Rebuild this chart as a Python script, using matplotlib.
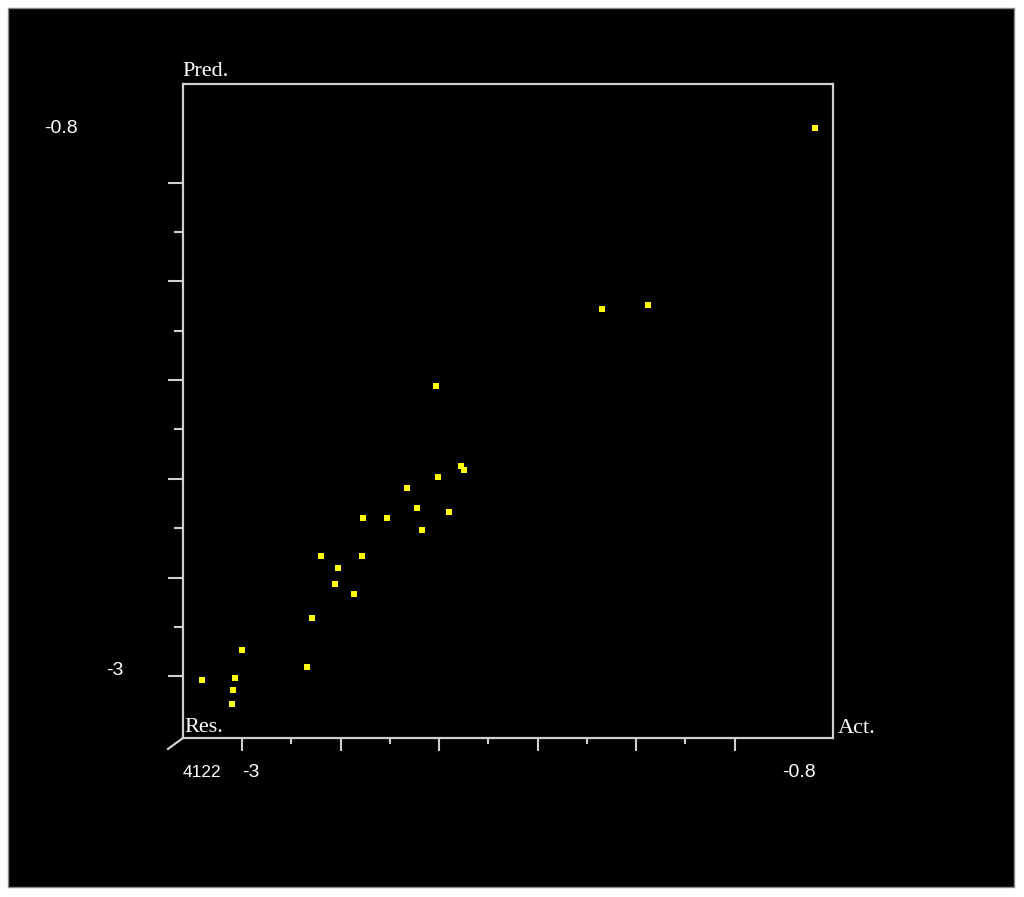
import numpy as np
import matplotlib
matplotlib.use("Agg")
import matplotlib.pyplot as plt
from matplotlib.patches import Rectangle

actual = [-2.211, -2.109, -2.097, -2.206, -2.330, -2.291, -2.160, -2.507,
          -2.411, -2.268, -2.678, -2.512, -2.610, -2.621, -2.546, -2.717,
          -3.001, -2.735, -3.161, -3.030, -3.035, -3.041, -1.539, -1.352,
          -0.675]
predicted = [-1.824, -2.148, -2.166, -2.194, -2.239, -2.318, -2.336, -2.359,
             -2.359, -2.409, -2.512, -2.512, -2.563, -2.626, -2.665, -2.762,
             -2.892, -2.961, -3.017, -3.007, -3.057, -3.114, -1.512, -1.495,
             -0.780]

major_ticks = np.arange(-3.0, -0.95, 0.4)
minor_ticks = np.arange(-2.8, -1.15, 0.4)
axis_lo, axis_hi = "-3", "-0.8"
res_label = "4122"

grey = "#d0d0d0"
fig = plt.figure(figsize=(10.24, 8.97), dpi=100, facecolor="white")
fig.patches.append(Rectangle((0.0078, 0.0111), 0.9824, 0.980, transform=fig.transFigure,
                             facecolor="black", edgecolor="#888888", linewidth=1, zorder=-5))

ax = fig.add_axes([0.1787, 0.1773, 0.6348, 0.7291])
ax.set_zorder(2)
ax.set_facecolor("black")
ax.scatter(actual, predicted, marker="s", s=14, color="#ffff00", linewidths=0, zorder=3)
ax.set_xlim(-3.24, -0.60)
ax.set_ylim(-3.25, -0.60)

for sp in ax.spines.values():
    sp.set_color(grey)
    sp.set_linewidth(1.6)

ax.set_xticks(major_ticks)
ax.set_xticks(minor_ticks, minor=True)
ax.set_yticks(major_ticks)
ax.set_yticks(minor_ticks, minor=True)
ax.tick_params(axis="x", which="major", length=9, width=1.5, color=grey, labelbottom=False)
ax.tick_params(axis="x", which="minor", length=4.5, width=1.5, color=grey)
ax.tick_params(axis="y", which="major", length=11, width=1.5, color=grey, labelleft=False)
ax.tick_params(axis="y", which="minor", length=6.5, width=1.5, color=grey)

num = dict(color="white", fontsize=14, family="Liberation Sans", clip_on=False)
lab = dict(color="white", fontsize=16, family="Liberation Serif", clip_on=False)

# left value labels
ax.text(-0.1615, -0.78, axis_hi, transform=ax.get_yaxis_transform(), ha="right", va="center", **num)
ax.text(-0.0908, -2.975, axis_lo, transform=ax.get_yaxis_transform(), ha="right", va="center", **num)
# bottom value labels
ax.text(-3.0, -0.0535, axis_lo, transform=ax.get_xaxis_transform(), ha="left", va="center", **num)
ax.text(-0.805, -0.0535, axis_hi, transform=ax.get_xaxis_transform(), ha="left", va="center", **num)
ax.text(0.0, -0.0535, res_label, transform=ax.transAxes, ha="left", va="center",
        **{**num, "fontsize": 12.5})

# axis names
ax.text(-0.0015, 1.005, "Pred.", transform=ax.transAxes, ha="left", va="bottom", **lab)
ax.text(1.0077, 0.0138, "Act.", transform=ax.transAxes, ha="left", va="center", **lab)
ax.text(0.002, 0.0155, "Res.", transform=ax.transAxes, ha="left", va="center", **lab)

# third (residual) axis stub
ax.plot([0, -0.023], [0, -0.0168], transform=ax.transAxes, color=grey, lw=1.6, clip_on=False)

fig.savefig("out.png", dpi=100, facecolor=fig.get_facecolor())
